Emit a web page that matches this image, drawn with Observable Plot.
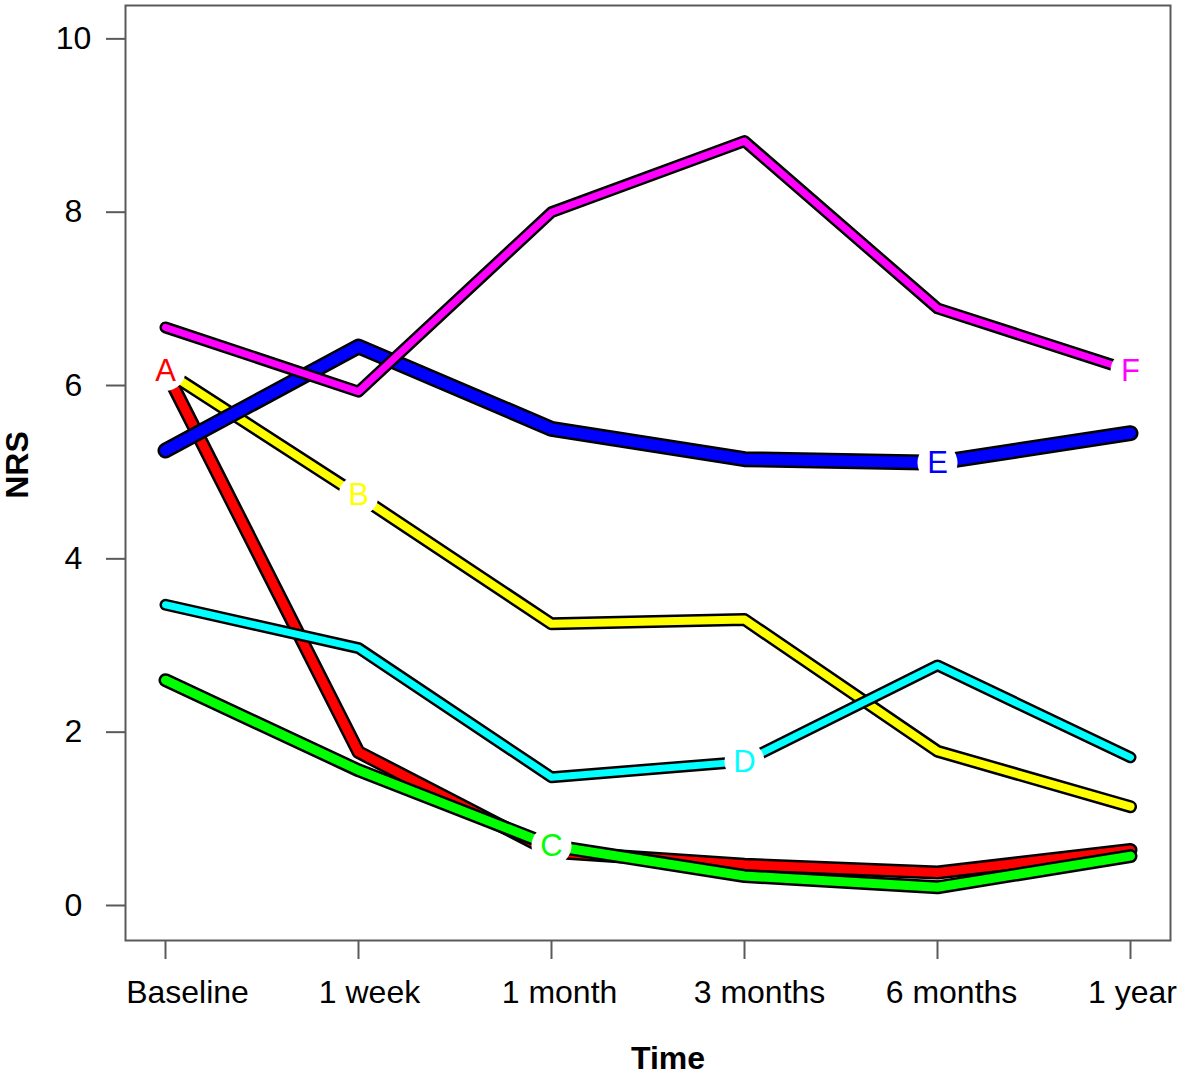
<!DOCTYPE html>
<html><head><meta charset="utf-8">
<script src="https://cdn.jsdelivr.net/npm/d3@7"></script>
<script src="https://cdn.jsdelivr.net/npm/@observablehq/plot@0.6"></script>
<style>
body{margin:0;background:#fff}
svg{display:block}
</style>
</head><body><div id="chart"></div>
<script>
// Time points (x categories)
const times = ["Baseline", "1 week", "1 month", "3 months", "6 months", "1 year"];
// Series labels and colours
const seriesNames = ["A", "B", "C", "D", "E", "F"];
const seriesColors = ["#ff0000", "#ffff00", "#00ff00", "#00ffff", "#0000ff", "#ff00ff"];
// NRS values per series
const seriesA = [6.17, 1.77, 0.62, 0.47, 0.38, 0.64];
const seriesB = [6.17, 4.73, 3.25, 3.30, 1.78, 1.14];
const seriesC = [2.60, 1.56, 0.69, 0.34, 0.21, 0.57];
const seriesD = [3.47, 2.97, 1.48, 1.66, 2.77, 1.71];
const seriesE = [5.25, 6.45, 5.50, 5.15, 5.11, 5.45];
const seriesF = [6.67, 5.93, 8.00, 8.82, 6.89, 6.17];
// y-axis ticks
const yTicks = [0, 2, 4, 6, 8, 10];

const allSeries = [seriesA, seriesB, seriesC, seriesD, seriesE, seriesF];
const lineWidths = [9, 8, 9, 7, 11, 7];
// horizontal nudges of the x tick labels as placed in the original figure
const xLabelNudge = [22, 11, 8, 15, 14, 2];

const rows = allSeries.flatMap((vals, i) =>
  vals.map((v, j) => ({ series: seriesNames[i], time: times[j], nrs: v, idx: i })));
// each series is labelled at its own time point (A at Baseline, ..., F at 1 year)
const labelRows = seriesNames.map((s, i) => ({ series: s, time: times[i], nrs: allSeries[i][i], idx: i }));

const font = "'Liberation Sans', Arial, Helvetica, sans-serif";
const marks = [Plot.frame({ stroke: "#5a5a5a", strokeWidth: 2 })];

allSeries.forEach((_, i) => {
  const d = rows.filter(r => r.idx === i);
  marks.push(Plot.line(d, { x: "time", y: "nrs", stroke: "black", strokeWidth: lineWidths[i] + 5,
    strokeLinecap: "round", strokeLinejoin: "round" }));
  marks.push(Plot.line(d, { x: "time", y: "nrs", stroke: seriesColors[i], strokeWidth: lineWidths[i],
    strokeLinecap: "round", strokeLinejoin: "round" }));
});

marks.push(Plot.dot(labelRows, { x: "time", y: "nrs", r: 20, fill: "white", stroke: "none" }));
labelRows.forEach((lr, i) => {
  marks.push(Plot.text([lr], { x: "time", y: "nrs", text: "series", fill: seriesColors[i], fontSize: 31,
    lineAnchor: "middle", textAnchor: "middle" }));
});

marks.push(Plot.axisY({ ticks: yTicks, tickSize: 19, tickPadding: 33, textAnchor: "middle",
  fontSize: 32, stroke: "#5a5a5a", strokeWidth: 2, fill: "black", label: null }));
marks.push(Plot.axisX({ tickSize: 19, tickFormat: () => "", stroke: "#5a5a5a",
  strokeWidth: 2, label: null }));
times.forEach((t, j) => {
  marks.push(Plot.text([t], { x: d => d, text: d => d, frameAnchor: "bottom", lineAnchor: "middle",
    textAnchor: "middle", dx: xLabelNudge[j], dy: 52, fontSize: 32, fill: "black" }));
});

marks.push(Plot.text(["Time"], { text: d => d, frameAnchor: "bottom", lineAnchor: "middle", textAnchor: "middle",
  dx: 20, dy: 118, fontWeight: "bold", fontSize: 32, fill: "black" }));
marks.push(Plot.text(["NRS"], { text: d => d, frameAnchor: "left", lineAnchor: "middle", textAnchor: "middle",
  rotate: -90, dx: -108, dy: -8, fontWeight: "bold", fontSize: 32, fill: "black" }));

const chart = Plot.plot({
  width: 1181,
  height: 1074,
  marginLeft: 125,
  marginRight: 11,
  marginTop: 5,
  marginBottom: 134,
  style: { fontFamily: font, background: "white", color: "black", overflow: "visible" },
  x: { type: "point", domain: times, padding: 0, insetLeft: 39, insetRight: 39 },
  y: { domain: [-0.404, 10.385] },
  marks
});
document.getElementById("chart").appendChild(chart);
</script>
</body></html>
